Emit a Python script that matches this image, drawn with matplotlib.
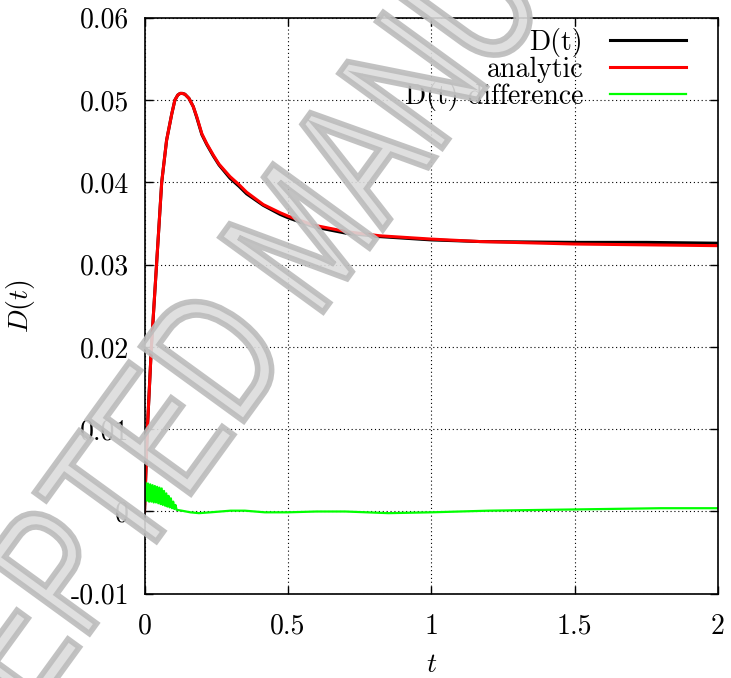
import numpy as np
import matplotlib
matplotlib.use("Agg")
import matplotlib.pyplot as plt
from matplotlib.textpath import TextPath
from matplotlib.patches import PathPatch
from matplotlib.font_manager import FontProperties
from matplotlib.transforms import Affine2D, IdentityTransform

plt.rcParams['font.family'] = 'cmr10'
plt.rcParams['mathtext.fontset'] = 'cm'
plt.rcParams['axes.unicode_minus'] = False

# D(t) and the analytic curve
t_curve = [0, 0.005, 0.01, 0.024, 0.042, 0.06, 0.077, 0.095, 0.106, 0.116, 0.124, 0.132, 0.141,
           0.155, 0.17, 0.182, 0.2, 0.217, 0.24, 0.26, 0.298, 0.33, 0.356, 0.414, 0.473, 0.5,
           0.589, 0.705, 0.821, 1.0, 1.17, 1.5, 1.75, 2.0]
d_t = [0.0, 0.005, 0.010, 0.020, 0.030, 0.040, 0.0451, 0.0483, 0.0500, 0.0506, 0.0508, 0.0508,
       0.0507, 0.0502, 0.0492, 0.0479, 0.0458, 0.0446, 0.0432, 0.0421, 0.0405, 0.0395, 0.0386,
       0.0372, 0.0361, 0.0357, 0.0346, 0.0338, 0.0334, 0.0330, 0.0328, 0.0327, 0.0327, 0.0326]
analytic = [0.0, 0.005, 0.010, 0.020, 0.030, 0.040, 0.0451, 0.0483, 0.0500, 0.0506, 0.0508, 0.0508,
            0.0507, 0.0502, 0.0492, 0.0480, 0.0459, 0.0447, 0.0433, 0.0422, 0.0407, 0.0397, 0.0388,
            0.0373, 0.0363, 0.0359, 0.0348, 0.0340, 0.0335, 0.0331, 0.0328, 0.0325, 0.0324, 0.0323]

# difference: fast wiggle near t=0 then slow drift
t_diff = [0.000, 0.004, 0.008, 0.012, 0.016, 0.020, 0.024, 0.028, 0.032, 0.036, 0.040, 0.044,
          0.048, 0.052, 0.056, 0.060, 0.064, 0.068, 0.072, 0.076, 0.080, 0.084, 0.088, 0.092,
          0.096, 0.100, 0.104, 0.108, 0.112, 0.13, 0.16, 0.19, 0.23, 0.3, 0.35, 0.42, 0.5, 0.6,
          0.7, 0.85, 1.0, 1.2, 1.4, 1.6, 1.8, 2.0]
d_diff = [0.0013, 0.0035, 0.0013, 0.0034, 0.0012, 0.0033, 0.0012, 0.0032, 0.0011, 0.0031, 0.0011,
          0.0030, 0.0010, 0.0029, 0.0009, 0.0028, 0.0008, 0.0025, 0.0007, 0.0022, 0.0006, 0.0019,
          0.0005, 0.0016, 0.0004, 0.0012, 0.0003, 0.0008, 0.0002, 0.0001, -0.0001, -0.0002,
          -0.0001, 0.0001, 0.0001, -0.0001, -0.0001, 0.0, 0.0, -0.0002, -0.0001, 0.0001,
          0.0002, 0.0003, 0.0004, 0.0004]

xticks = [0, 0.5, 1, 1.5, 2]
xticklabels = ['0', '0.5', '1', '1.5', '2']
yticks = [-0.01, 0, 0.01, 0.02, 0.03, 0.04, 0.05, 0.06]
yticklabels = ['-0.01', '0', '0.01', '0.02', '0.03', '0.04', '0.05', '0.06']

W, H = 731, 678
fig = plt.figure(figsize=(W / 100, H / 100), dpi=100)
ax = fig.add_axes([144.5 / W, 1 - 593.8 / H, 573.5 / W, 576.1 / H])
ax.patch.set_alpha(0)

ax.plot(t_curve, d_t, color='black', lw=2.2, label='D(t)')
ax.plot(t_curve, analytic, color='#ff0000', lw=2.2, label='analytic')
ax.plot(t_diff, d_diff, color='#00ff00', lw=1.6, label='D(t) difference')

ax.set_xlim(0, 2)
ax.set_ylim(-0.01, 0.06)
ax.set_xticks(xticks)
ax.set_xticklabels(xticklabels)
ax.set_yticks(yticks)
ax.set_yticklabels(yticklabels)
ax.tick_params(direction='in', length=6, width=1, labelsize=20, top=True, right=True)
ax.tick_params(axis='y', pad=11)
ax.tick_params(axis='x', pad=14)
ax.grid(True, color='black', lw=0.8, linestyle=(0, (1, 2.5)))
for s in ax.spines.values():
    s.set_linewidth(1.2)

ax.set_xlabel('$t$', fontsize=20)
ax.set_ylabel('$D(t)$', fontsize=20)
ax.xaxis.set_label_coords(0.5, -0.1)
ax.yaxis.set_label_coords(-0.187, 0.5)

ax.legend(loc='upper right', bbox_to_anchor=(0.944, 0.982), frameon=False, markerfirst=False,
          fontsize=20, handlelength=2.73, handletextpad=0.97, labelspacing=-0.03,
          borderpad=0, borderaxespad=0)

# watermark: tall letters with a darker rim, anchored at the foot of the M
wm_text = 'ACCEPTED MANUSCRIPT'
wm_prop = FontProperties(family='Liberation Sans')
tp = TextPath((0, 0), wm_text, size=100, prop=wm_prop)
x_m = (TextPath((0, 0), 'ACCEPTED M', size=100, prop=wm_prop).get_extents().x1
       - TextPath((0, 0), 'M', size=100, prop=wm_prop).get_extents().width)
wm_tr = (Affine2D().translate(-x_m, 0).scale(1.35, 1.85)
         .rotate_deg(54).translate(323, H - 312))
wm = PathPatch(tp, transform=wm_tr + IdentityTransform(), facecolor='#dcdcdc',
               edgecolor='#bcbcbc', lw=4, alpha=0.9, zorder=5)
fig.add_artist(wm)

fig.savefig('out.png', dpi=100)
